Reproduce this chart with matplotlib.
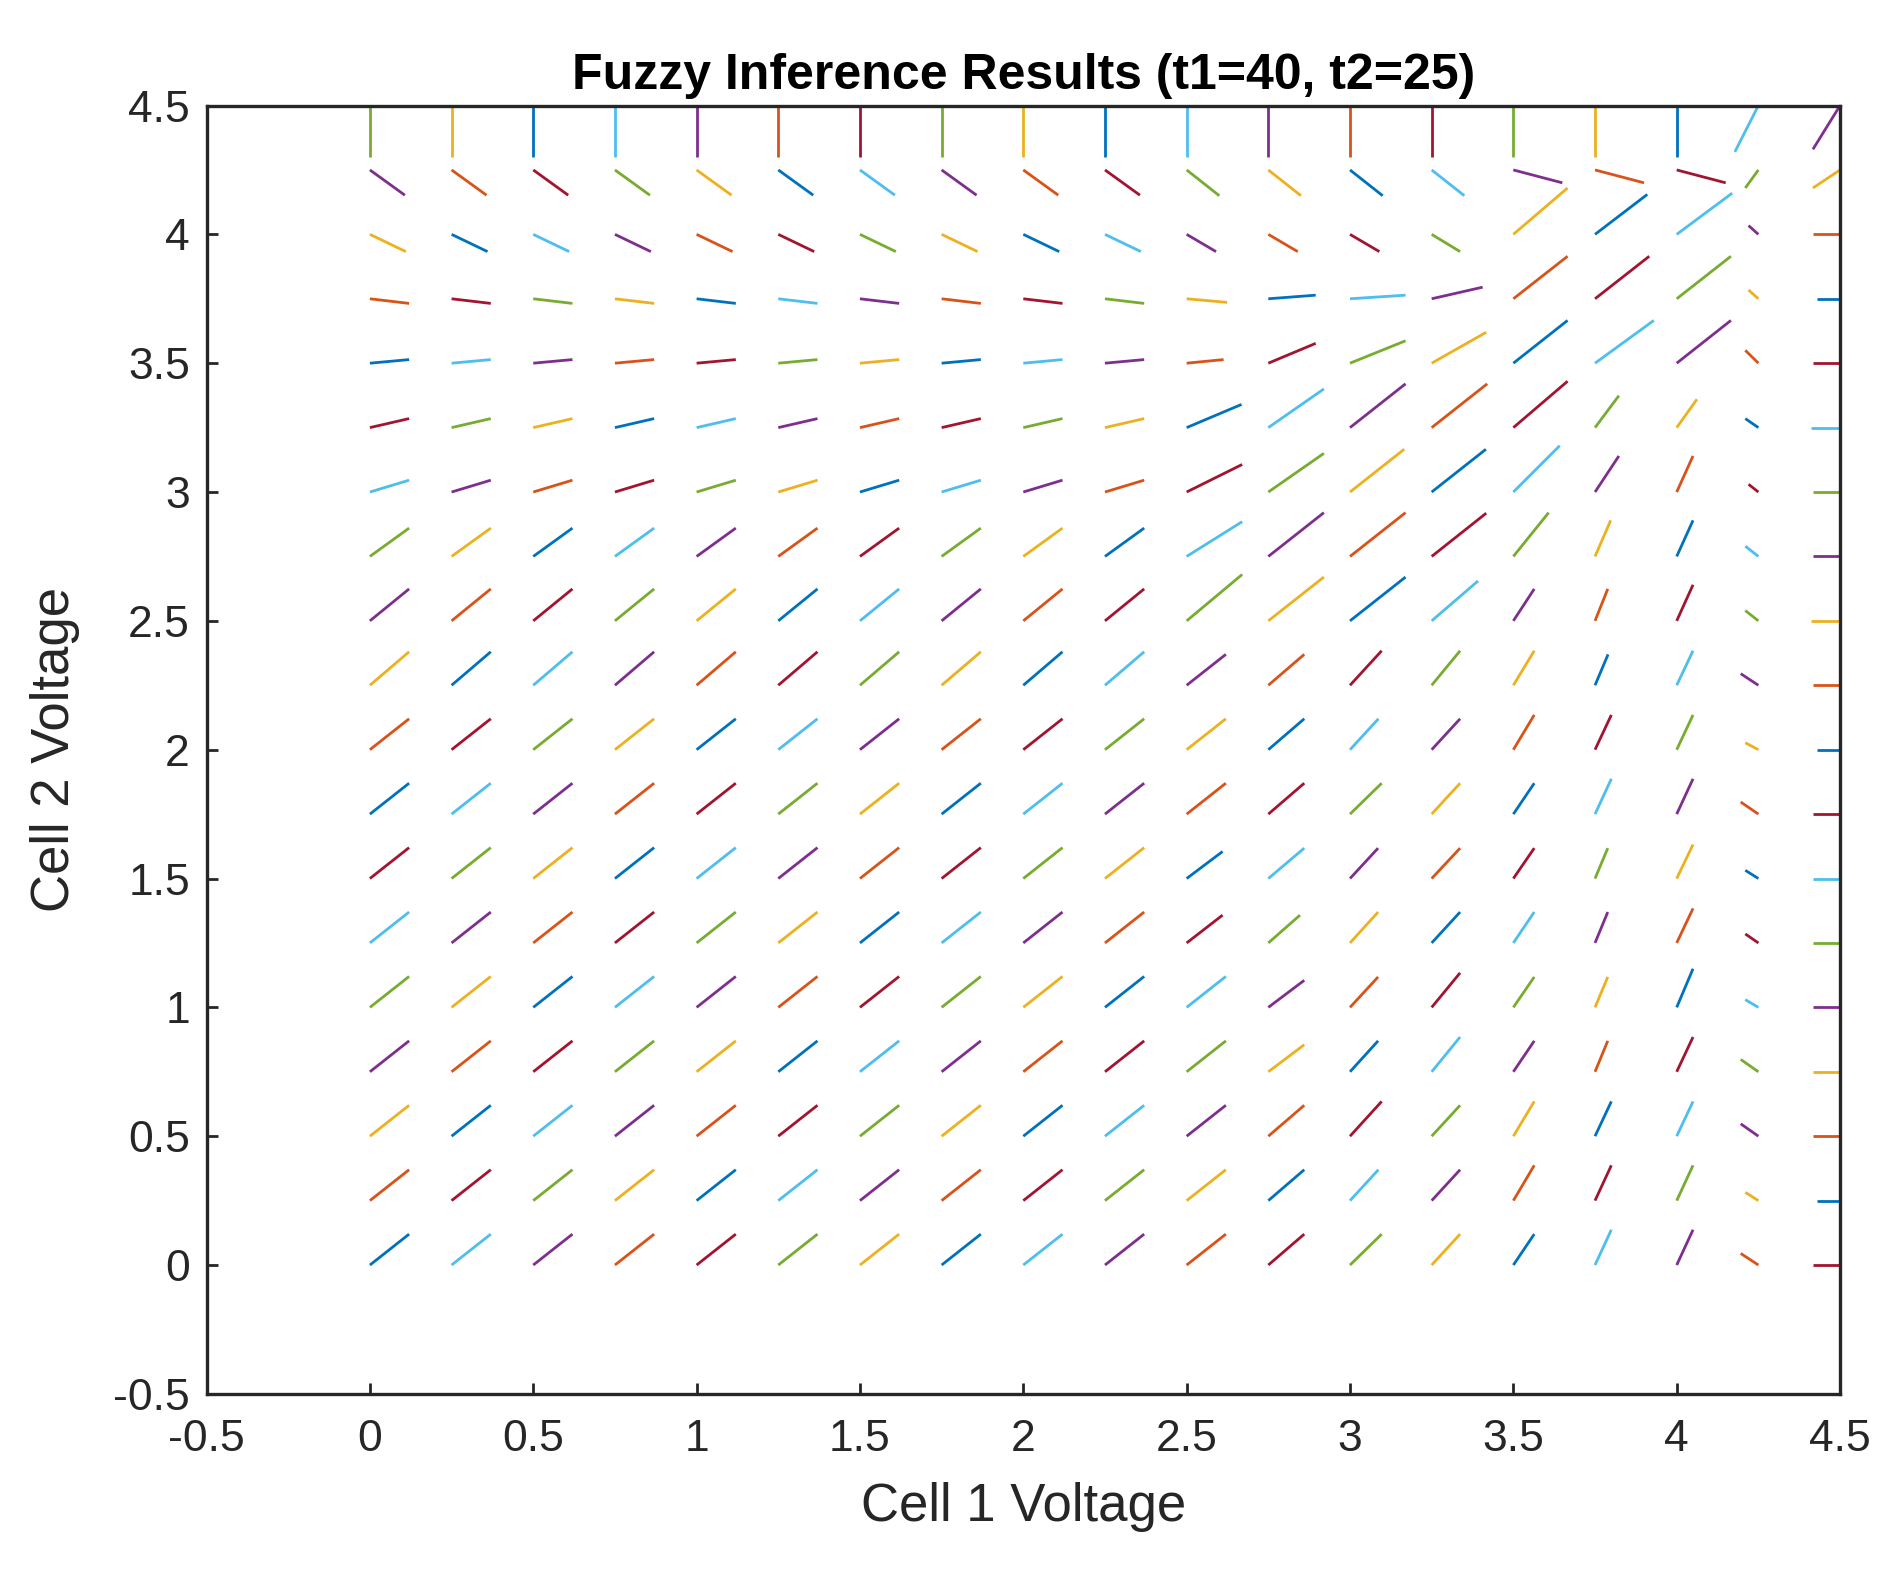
import numpy as np
import matplotlib.pyplot as plt

plt.rcParams['font.family'] = 'Liberation Sans'

# grid of cell voltages
x_vals = [0, 0.25, 0.5, 0.75, 1.0, 1.25, 1.5, 1.75, 2.0, 2.25, 2.5, 2.75, 3.0, 3.25, 3.5, 3.75, 4.0, 4.25, 4.5]
y_vals = [0, 0.25, 0.5, 0.75, 1.0, 1.25, 1.5, 1.75, 2.0, 2.25, 2.5, 2.75, 3.0, 3.25, 3.5, 3.75, 4.0, 4.25, 4.5]

# U components, one row per y value (bottom to top), one column per x value
U = [
    [.12, .12, .12, .12, .12, .12, .12, .12, .12, .12, .12, .11, .097, .087, .064, .05, .05, -.054, -.083],
    [.12, .12, .12, .12, .12, .12, .12, .12, .12, .12, .12, .11, .087, .087, .064, .05, .05, -.04, -.07],
    [.12, .12, .12, .12, .12, .12, .12, .12, .12, .12, .12, .11, .097, .087, .064, .05, .05, -.054, -.083],
    [.12, .12, .12, .12, .12, .12, .12, .12, .12, .12, .12, .11, .086, .087, .064, .039, .05, -.054, -.083],
    [.12, .12, .12, .12, .12, .12, .12, .12, .12, .12, .12, .11, .086, .087, .064, .039, .05, -.04, -.083],
    [.12, .12, .12, .12, .12, .12, .12, .12, .12, .12, .11, .097, .086, .087, .064, .039, .05, -.04, -.083],
    [.12, .12, .12, .12, .12, .12, .12, .12, .12, .12, .11, .11, .086, .087, .064, .039, .05, -.04, -.083],
    [.12, .12, .12, .12, .12, .12, .12, .12, .12, .12, .12, .11, .097, .087, .064, .05, .05, -.054, -.083],
    [.12, .12, .12, .12, .12, .12, .12, .12, .12, .12, .12, .11, .087, .087, .064, .05, .05, -.04, -.07],
    [.12, .12, .12, .12, .12, .12, .12, .12, .12, .12, .12, .11, .097, .087, .064, .04, .05, -.054, -.083],
    [.12, .12, .12, .12, .12, .12, .12, .12, .12, .12, .17, .17, .17, .142, .064, .039, .05, -.04, -.09],
    [.12, .12, .12, .12, .12, .12, .12, .12, .12, .12, .17, .17, .17, .167, .108, .048, .05, -.04, -.083],
    [.12, .12, .12, .12, .12, .12, .12, .12, .12, .12, .17, .17, .166, .166, .142, .073, .05, -.03, -.083],
    [.12, .12, .12, .12, .12, .12, .12, .12, .12, .12, .168, .17, .17, .17, .166, .073, .062, -.04, -.09],
    [.12, .12, .12, .12, .12, .12, .12, .12, .12, .12, .113, .145, .17, .167, .166, .18, .166, -.04, -.083],
    [.12, .12, .12, .12, .12, .12, .12, .12, .12, .12, .124, .145, .17, .156, .166, .166, .166, -.03, -.07],
    [.11, .11, .11, .11, .11, .11, .11, .11, .11, .11, .09, .09, .09, .087, .166, .16, .17, -.03, -.083],
    [.107, .107, .107, .107, .107, .107, .107, .107, .107, .107, .10, .10, .10, .10, .15, .15, .15, -.04, -.083],
    [0, 0, 0, 0, 0, 0, 0, 0, 0, 0, 0, 0, 0, 0, 0, 0, 0, -.072, -.083],
]

# V components, same layout
V = [
    [.12, .12, .12, .12, .12, .12, .12, .12, .12, .12, .12, .12, .12, .12, .12, .137, .137, .045, 0],
    [.12, .12, .12, .12, .12, .12, .12, .12, .12, .12, .12, .12, .12, .12, .137, .137, .137, .032, 0],
    [.12, .12, .12, .12, .12, .12, .12, .12, .12, .12, .12, .12, .135, .12, .135, .135, .135, .048, 0],
    [.12, .12, .12, .12, .12, .12, .12, .12, .12, .12, .12, .105, .12, .135, .12, .12, .135, .048, 0],
    [.12, .12, .12, .12, .12, .12, .12, .12, .12, .12, .12, .105, .118, .134, .118, .118, .15, .03, 0],
    [.12, .12, .12, .12, .12, .12, .12, .12, .12, .12, .108, .108, .12, .12, .12, .12, .134, .035, 0],
    [.12, .12, .12, .12, .12, .12, .12, .12, .12, .12, .105, .118, .118, .118, .118, .118, .132, .032, 0],
    [.12, .12, .12, .12, .12, .12, .12, .12, .12, .12, .12, .12, .12, .12, .12, .137, .137, .047, 0],
    [.12, .12, .12, .12, .12, .12, .12, .12, .12, .12, .12, .12, .12, .12, .135, .135, .135, .027, 0],
    [.13, .13, .13, .13, .13, .13, .13, .13, .13, .13, .12, .12, .134, .134, .134, .12, .134, .045, 0],
    [.124, .124, .124, .124, .124, .124, .124, .124, .124, .124, .18, .17, .17, .155, .124, .124, .14, .04, 0],
    [.11, .11, .11, .11, .11, .11, .11, .11, .11, .11, .135, .17, .17, .168, .17, .14, .14, .04, 0],
    [.046, .046, .046, .046, .046, .046, .046, .046, .046, .046, .107, .15, .166, .166, .18, .14, .14, .03, 0],
    [.035, .035, .035, .035, .035, .035, .035, .035, .035, .035, .09, .15, .17, .17, .18, .124, .11, .035, 0],
    [.014, .014, .014, .014, .014, .014, .014, .014, .014, .014, .014, .077, .087, .12, .166, .166, .166, .05, 0],
    [-.018, -.018, -.018, -.018, -.018, -.018, -.018, -.018, -.018, -.018, -.014, .014, .014, .045, .165, .165, .165, .034, 0],
    [-.067, -.067, -.067, -.067, -.067, -.067, -.067, -.067, -.067, -.067, -.067, -.067, -.067, -.067, .18, .155, .16, .034, 0],
    [-.098, -.098, -.098, -.098, -.098, -.098, -.098, -.098, -.098, -.098, -.10, -.10, -.10, -.10, -.05, -.05, -.05, -.07, -.07],
    [-.2, -.2, -.2, -.2, -.2, -.2, -.2, -.2, -.2, -.2, -.2, -.2, -.2, -.2, -.2, -.2, -.2, -.18, -.17],
]

colors = ['#0072BD', '#D95319', '#EDB120', '#7E2F8E', '#77AC30', '#4DBEEE', '#A2142F']

fig = plt.figure(figsize=(9.475, 7.875), dpi=200)
ax = fig.add_axes([0.109, 0.115, 0.862, 0.818])

# one line per grid point, colours cycle column by column
k = 0
for i, x in enumerate(x_vals):
    for j, y in enumerate(y_vals):
        u = U[j][i]
        v = V[j][i]
        ax.plot([x, x + u], [y, y + v], color=colors[k % 7], lw=1.0, solid_capstyle='butt')
        k += 1

ax.set_xlim(-0.5, 4.5)
ax.set_ylim(-0.5, 4.5)
ticks = [-0.5, 0, 0.5, 1, 1.5, 2, 2.5, 3, 3.5, 4, 4.5]
ax.set_xticks(ticks)
ax.set_yticks(ticks)
ax.set_xticklabels(['-0.5', '0', '0.5', '1', '1.5', '2', '2.5', '3', '3.5', '4', '4.5'])
ax.set_yticklabels(['-0.5', '0', '0.5', '1', '1.5', '2', '2.5', '3', '3.5', '4', '4.5'])
ax.tick_params(direction='in', length=4, width=1, labelsize=16, colors='#262626', top=False, right=False)
ax.tick_params(axis='x', pad=9)
ax.tick_params(axis='y', pad=6)
for s in ax.spines.values():
    s.set_linewidth(1.2)
    s.set_color('#262626')

ax.set_xlabel('Cell 1 Voltage', fontsize=19, color='#262626', labelpad=8)
ax.set_ylabel('Cell 2 Voltage', fontsize=19, color='#262626', labelpad=12)
ax.set_title('Fuzzy Inference Results (t1=40, t2=25)', fontsize=18, fontweight='bold', color='black', pad=6)

fig.savefig('out.png', dpi=200)
